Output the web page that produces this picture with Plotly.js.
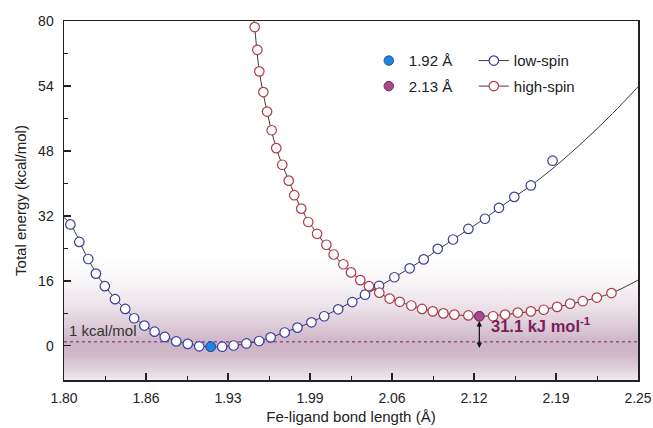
<!DOCTYPE html>
<html>
<head>
<meta charset="utf-8">
<script src="https://cdn.plot.ly/plotly-3.0.1.min.js"></script>
<style>html,body{margin:0;padding:0;background:#fff;}#chart{width:653px;height:428px;}</style>
</head>
<body>
<div id="chart"></div>
<script>
// ---- data ----
var lowSpinX = [1.805, 1.812, 1.819, 1.825, 1.832, 1.840, 1.848, 1.855, 1.863, 1.871, 1.879, 1.888, 1.897, 1.906, 1.915, 1.924, 1.933, 1.943, 1.953, 1.962, 1.973, 1.983, 1.994, 2.004, 2.015, 2.026, 2.036, 2.047, 2.059, 2.071, 2.082, 2.093, 2.105, 2.117, 2.130, 2.141, 2.153, 2.166, 2.183];
var lowSpinY = [29.9, 25.6, 21.4, 17.8, 14.7, 11.5, 9.1, 6.8, 5.0, 3.5, 2.2, 1.1, 0.5, -0.1, -0.2, -0.2, 0.1, 0.6, 1.2, 2.1, 3.3, 4.5, 5.8, 7.3, 9.0, 10.8, 12.6, 14.8, 16.9, 19.1, 21.3, 23.9, 26.2, 28.8, 31.3, 34.0, 36.7, 39.5, 45.6];
var highSpinX = [1.9495, 1.9516, 1.9531, 1.9563, 1.9592, 1.9628, 1.9664, 1.9711, 1.9762, 1.9805, 1.986, 1.9915, 1.9984, 2.0057, 2.0114, 2.019, 2.025, 2.0323, 2.0391, 2.0472, 2.0553, 2.0632, 2.0723, 2.0807, 2.0891, 2.0974, 2.106, 2.117, 2.1256, 2.1364, 2.1458, 2.1557, 2.166, 2.1761, 2.1866, 2.1968, 2.2067, 2.2177, 2.2292];
var highSpinY = [78.5, 72.9, 67.6, 62.5, 57.7, 53.1, 48.7, 44.6, 40.7, 37.1, 33.8, 30.5, 27.6, 24.9, 22.5, 20.1, 18.1, 16.2, 14.7, 13.1, 11.65, 10.85, 9.95, 9.1, 8.5, 8.0, 7.7, 7.5, 7.3, 7.3, 7.7, 8.2, 8.5, 8.9, 9.6, 10.4, 11.0, 11.9, 13.0];
// fitted curves
var lowFitX = [1.800, 1.8053, 1.8188, 1.8321, 1.8478, 1.8633, 1.8794, 1.8967, 1.9152, 1.9333, 1.9529, 1.9727, 1.9936, 2.0145, 2.0362, 2.0585, 2.082, 2.105, 2.1295, 2.1533, 2.1661, 2.1855, 2.2085, 2.230, 2.250];
var lowFitY = [31.6, 29.9, 21.4, 14.7, 9.1, 5.0, 2.2, 0.5, -0.2, 0.1, 1.2, 3.3, 5.8, 9.0, 12.6, 16.8, 21.3, 26.2, 31.3, 36.7, 39.5, 44.3, 50.7, 57.2, 63.8];
var highFitX = [1.9488, 1.9495, 1.9531, 1.9592, 1.9664, 1.9762, 1.986, 1.9984, 2.0114, 2.025, 2.0391, 2.0553, 2.0723, 2.0891, 2.106, 2.1256, 2.1458, 2.166, 2.1866, 2.2067, 2.2292, 2.250];
var highFitY = [80.5, 78.5, 67.6, 57.7, 48.7, 40.7, 33.8, 27.6, 22.5, 18.1, 14.7, 11.65, 9.95, 8.5, 7.7, 7.3, 7.7, 8.5, 9.6, 11.0, 13.0, 16.2];
var minLowX = [1.915], minLowY = [-0.2];
var minHighX = [2.1256], minHighY = [7.3];
var xTickVals = [1.80, 1.8642857, 1.9285714, 1.9928571, 2.0571429, 2.1214286, 2.1857143, 2.25];
var xTickText = ["1.80", "1.86", "1.93", "1.99", "2.06", "2.12", "2.19", "2.25"];
var yTickVals = [0, 16, 32, 48, 64, 80];
var yTickText = ["0", "16", "32", "48", "54", "80"];
var refLineY = 1;
var gapLabel = "31.1 kJ mol<sup>-1</sup>";

var FONT = "Liberation Sans, Arial, sans-serif";
var lineCol = "#3a3a3a";
var lowEdge = "#3b3ba6", highEdge = "#b23a4a";
var MS = 9.5;

var traces = [
  {x: lowFitX, y: lowFitY, mode: "lines", line: {color: lineCol, width: 1, shape: "spline", smoothing: 1}, showlegend: false, hoverinfo: "skip"},
  {x: highFitX, y: highFitY, mode: "lines", line: {color: lineCol, width: 1, shape: "spline", smoothing: 1}, showlegend: false, hoverinfo: "skip"},
  {x: lowSpinX, y: lowSpinY, mode: "markers", marker: {size: MS, color: "#ffffff", line: {color: lowEdge, width: 1.2}}, showlegend: false},
  {x: highSpinX, y: highSpinY, mode: "markers", marker: {size: MS, color: "#ffffff", line: {color: highEdge, width: 1.2}}, showlegend: false},
  {x: minLowX, y: minLowY, mode: "markers", name: "1.92 Å", legend: "legend", legendgroup: "a", marker: {size: MS, color: "#1e86e0", line: {color: "#2a55a5", width: 1}}},
  {x: minHighX, y: minHighY, mode: "markers", name: "2.13 Å", legend: "legend", legendgroup: "b", marker: {size: MS, color: "#a54a8c", line: {color: "#7a2a66", width: 1}}},
  {x: [null], y: [null], mode: "lines+markers", name: "low-spin", legend: "legend2", legendgroup: "c", line: {color: lineCol, width: 1}, marker: {size: MS, color: "#ffffff", line: {color: lowEdge, width: 1.2}}},
  {x: [null], y: [null], mode: "lines+markers", name: "high-spin", legend: "legend2", legendgroup: "d", line: {color: lineCol, width: 1}, marker: {size: MS, color: "#ffffff", line: {color: highEdge, width: 1.2}}}
];

// background gradient band (decoration) as an SVG image
var bandTop = 22, bandBot = -8.4;
var svg = '<svg xmlns="http://www.w3.org/2000/svg" width="100" height="100" preserveAspectRatio="none">' +
  '<defs><linearGradient id="g" x1="0" y1="0" x2="0" y2="1">' +
  '<stop offset="0" stop-color="#80466f" stop-opacity="0"/>' +
  '<stop offset="0.2" stop-color="#80466f" stop-opacity="0.05"/>' +
  '<stop offset="0.4" stop-color="#80466f" stop-opacity="0.15"/>' +
  '<stop offset="0.55" stop-color="#80466f" stop-opacity="0.27"/>' +
  '<stop offset="0.7" stop-color="#80466f" stop-opacity="0.40"/>' +
  '<stop offset="0.8" stop-color="#80466f" stop-opacity="0.38"/>' +
  '<stop offset="0.9" stop-color="#80466f" stop-opacity="0.26"/>' +
  '<stop offset="1" stop-color="#80466f" stop-opacity="0.12"/>' +
  '</linearGradient></defs><rect x="0" y="0" width="100" height="100" fill="url(#g)"/></svg>';
var svgURI = "data:image/svg+xml;base64," + btoa(svg);

var shapes = [{type: "line", layer: "below", xref: "paper", x0: 0, x1: 1, yref: "y", y0: refLineY, y1: refLineY,
  line: {color: "#9a4f98", width: 1.5, dash: "dot"}}];

var layout = {
  width: 653, height: 428,
  margin: {l: 64, r: 15, t: 21, b: 48},
  paper_bgcolor: "#ffffff", plot_bgcolor: "#ffffff",
  font: {family: FONT, size: 14, color: "#222"},
  xaxis: {
    range: [1.80, 2.25], tickmode: "array", tickvals: xTickVals, ticktext: xTickText,
    ticks: "inside", ticklen: 7, tickwidth: 1.2, tickcolor: "#222", ticklabelstandoff: 5,
    minor: {ticks: "inside", ticklen: 4, tickwidth: 1, tickcolor: "#222", tickvals: xTickVals.slice(0, -1).map(function (v, k) { return (v + xTickVals[k + 1]) / 2; })},
    showline: true, linecolor: "#222", linewidth: 1.5, mirror: true, showgrid: false, zeroline: false,
    tickfont: {size: 14, color: "#222"},
    title: {text: "Fe-ligand bond length (Å)", font: {size: 15, color: "#222"}, standoff: 6}
  },
  yaxis: {
    range: [-8.4, 80], tickmode: "array", tickvals: yTickVals, ticktext: yTickText,
    ticks: "inside", ticklen: 7, tickwidth: 1.2, tickcolor: "#222", ticklabelstandoff: 6,
    minor: {ticks: "inside", ticklen: 4, tickwidth: 1, tickcolor: "#222", tickvals: [8, 24, 40, 56, 72]},
    showline: true, linecolor: "#222", linewidth: 1.5, mirror: true, showgrid: false, zeroline: false,
    tickfont: {size: 14, color: "#222"},
    title: {text: "Total energy (kcal/mol)", font: {size: 15, color: "#222"}, standoff: 8}
  },
  showlegend: true,
  legend: {x: 0.531, y: 0.935, xanchor: "left", yanchor: "top", bgcolor: "rgba(0,0,0,0)", borderwidth: 0,
    font: {size: 15, color: "#222"}, tracegroupgap: 3, traceorder: "grouped"},
  legend2: {x: 0.714, y: 0.935, xanchor: "left", yanchor: "top", bgcolor: "rgba(0,0,0,0)", borderwidth: 0,
    font: {size: 15, color: "#222"}, tracegroupgap: 3, traceorder: "grouped"},
  images: [{source: svgURI, xref: "paper", yref: "y", x: 0, y: bandTop, sizex: 1, sizey: bandTop - bandBot,
    xanchor: "left", yanchor: "top", sizing: "stretch", layer: "below", opacity: 1}],
  shapes: shapes,
  annotations: [
    {x: 1.802, y: refLineY, xref: "x", yref: "y", text: "1 kcal/mol", showarrow: false, xanchor: "left", yanchor: "bottom", yshift: 1, font: {size: 15, color: "#333"}},
    {x: minHighX[0], y: -0.5, ax: minHighX[0], ay: 6.5, xref: "x", yref: "y", axref: "x", ayref: "y", text: "", showarrow: true,
      arrowside: "end+start", arrowhead: 2, arrowsize: 0.9, arrowwidth: 1.2, arrowcolor: "#111"},
    {x: 2.133, y: 5.2, xref: "x", yref: "y", text: "<b>" + gapLabel + "</b>", showarrow: false, xanchor: "left", yanchor: "middle", font: {size: 16.5, color: "#7b1e5c"}}
  ]
};

Plotly.newPlot("chart", traces, layout, {displayModeBar: false, staticPlot: true});
</script>
</body>
</html>
